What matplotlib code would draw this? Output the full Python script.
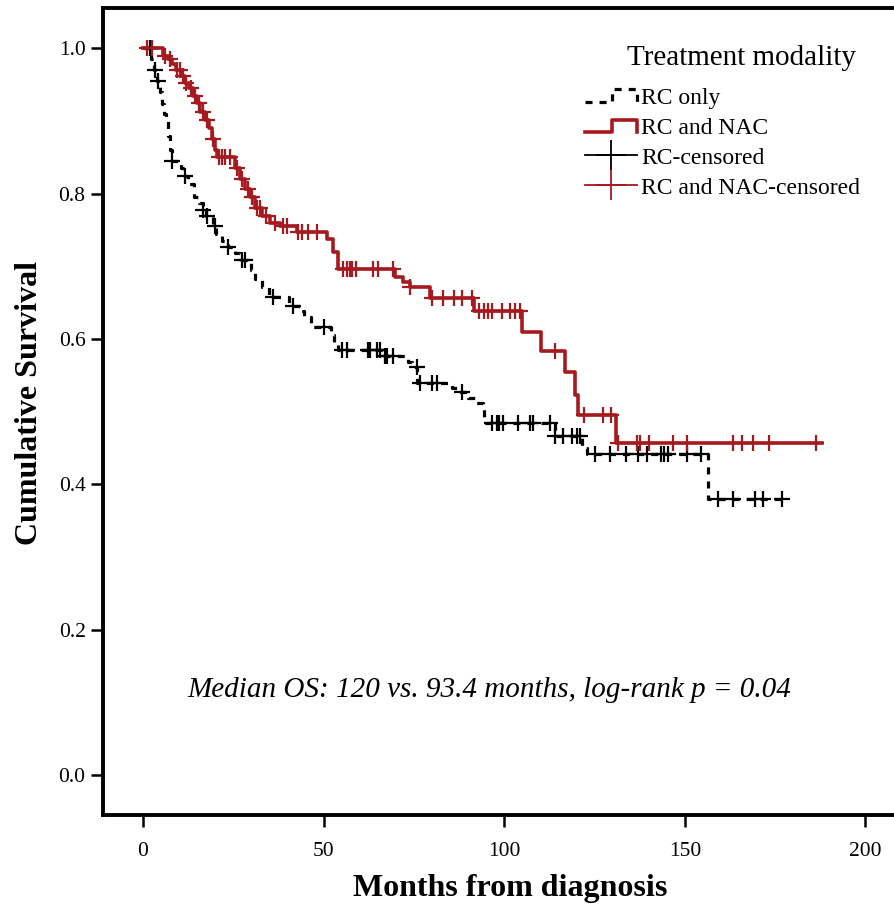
import numpy as np
import matplotlib
matplotlib.use('Agg')
import matplotlib.pyplot as plt
from matplotlib.lines import Line2D
from matplotlib.legend_handler import HandlerBase

plt.rcParams['font.family'] = ['Liberation Serif', 'DejaVu Serif']

# RC only (Kaplan-Meier steps: time in months, survival)
rc_t = [0, 2.2, 3.0, 4.0, 4.8, 5.3, 5.8, 6.4, 6.9, 7.5, 8.0, 10.5, 11.0, 12.5, 14.0, 15.5, 16.5, 17.5,
        19.5, 20.2, 22.0, 23.5, 25.5, 27.0, 30.0, 31.0, 33.0, 35.0, 40.5, 43.5, 44.5, 46.5, 52.0, 53.0,
        54.0, 66.5, 73.5, 74.5, 76.0, 85.5, 87.0, 90.0, 92.0, 94.0, 94.5, 114.0, 121.5, 123.0, 156.5]
rc_s = [1.0, 0.985, 0.97, 0.955, 0.94, 0.923, 0.91, 0.90, 0.88, 0.86, 0.845, 0.835, 0.824, 0.813, 0.796,
        0.787, 0.778, 0.769, 0.755, 0.745, 0.735, 0.727, 0.718, 0.709, 0.695, 0.682, 0.671, 0.658, 0.646,
        0.638, 0.631, 0.617, 0.605, 0.595, 0.585, 0.576, 0.568, 0.562, 0.54, 0.533, 0.527, 0.519, 0.512,
        0.507, 0.485, 0.466, 0.45, 0.442, 0.38]
rc_end = 178.0
rc_cens = [1.9, 3.3, 4.3, 8.0, 11.6, 16.6, 17.6, 19.9, 23.6, 27.4, 28.3, 36.0, 41.5, 50.0, 55.0, 56.5,
           62.3, 62.9, 64.8, 65.6, 67.0, 67.6, 69.2, 75.9, 76.7, 80.0, 81.4, 88.4, 96.7, 98.0, 98.5, 99.7,
           103.9, 107.2, 108.0, 112.8, 114.1, 116.3, 118.8, 120.2, 121.0, 125.0, 129.4, 133.8, 137.1,
           139.6, 143.4, 144.3, 145.4, 150.7, 154.6, 159.3, 163.4, 169.5, 171.7, 177.0]

# RC and NAC
nac_t = [0, 5.5, 6.9, 8.0, 9.1, 10.5, 11.6, 12.7, 13.9, 15.0, 15.8, 17.2, 18.3, 19.1, 19.9, 20.5, 25.5,
         26.9, 28.3, 29.6, 31.0, 33.0, 35.2, 38.0, 42.7, 51.0, 52.6, 54.0, 69.8, 72.0, 74.0, 79.5, 91.7,
         105.0, 110.2, 116.9, 119.7, 120.5, 131.0]
nac_s = [1.0, 0.99, 0.985, 0.978, 0.970, 0.962, 0.953, 0.945, 0.935, 0.925, 0.912, 0.902, 0.89, 0.875,
         0.86, 0.851, 0.835, 0.82, 0.806, 0.795, 0.78, 0.77, 0.76, 0.755, 0.747, 0.737, 0.72, 0.697, 0.686,
         0.678, 0.671, 0.657, 0.638, 0.610, 0.583, 0.554, 0.523, 0.496, 0.457]
nac_end = 188.0
nac_cens = [1.0, 2.5, 6.2, 7.5, 9.5, 10.2, 11.0, 12.0, 13.2, 14.4, 15.4, 16.5, 17.8, 19.5, 21.0, 21.8,
            22.6, 24.0, 26.0, 27.5, 29.0, 30.2, 31.5, 32.5, 34.0, 36.5, 38.8, 40.0, 43.0, 44.0, 45.7,
            48.2, 55.4, 56.5, 57.3, 58.0, 58.9, 63.7, 65.0, 69.3, 74.0, 80.0, 83.0, 86.0, 88.4, 91.0,
            93.0, 94.5, 95.5, 96.7, 99.5, 101.7, 103.0, 104.4, 114.0, 122.0, 127.4, 129.6, 131.6,
            136.8, 137.7, 140.0, 146.8, 150.7, 163.4, 165.7, 169.0, 173.4, 186.2]

labels = ['RC only', 'RC and NAC', 'RC-censored', 'RC and NAC-censored']
red = '#a6191e'


def surv_at(t, s, x):
    idx = np.searchsorted(t, x, side='right') - 1
    return np.asarray(s)[idx]


class StepHandler(HandlerBase):
    # little step shape as legend key, like the SPSS output
    def create_artists(self, legend, orig_handle, xdescent, ydescent, width, height, fontsize, trans):
        x0, y0 = -xdescent, -ydescent
        lo, hi = y0 + 0.1 * height, y0 + 0.85 * height
        xs = [x0, x0 + 0.52 * width, x0 + 0.52 * width, x0 + width, x0 + width]
        ys = [lo, lo, hi, hi, lo]
        ln = Line2D(xs, ys)
        ln.update_from(orig_handle)
        ln.set_transform(trans)
        return [ln]


fig = plt.figure(figsize=(8.95, 9.1), dpi=100)
ax = fig.add_axes([0.115, 0.1044, 0.9, 0.887])

l_rc, = ax.step(list(rc_t) + [rc_end], list(rc_s) + [rc_s[-1]], where='post', color='black',
                lw=2.3, linestyle=(0, (2.2, 2.2)))
l_nac, = ax.step(list(nac_t) + [nac_end], list(nac_s) + [nac_s[-1]], where='post', color=red, lw=2.6)

ax.plot(rc_cens, surv_at(rc_t, rc_s, rc_cens), ls='none', marker='+', ms=12, mew=1.6, color='black')
ax.plot(nac_cens, surv_at(nac_t, nac_s, nac_cens), ls='none', marker='+', ms=12, mew=1.6, color=red)

ax.set_xlim(-11.08, 211.9)
ax.set_ylim(-0.055, 1.0558)
ax.set_xticks([0, 50, 100, 150, 200])
ax.set_yticks([0.0, 0.2, 0.4, 0.6, 0.8, 1.0])
ax.set_yticklabels(['0.0', '0.2', '0.4', '0.6', '0.8', '1.0'])
for sp in ax.spines.values():
    sp.set_linewidth(2.8)
ax.tick_params(length=8.5, width=1.8, labelsize=15.5, pad=4)
ax.tick_params(axis='x', pad=11)

ax.set_xlabel('Months from diagnosis', fontsize=23, fontweight='bold')
ax.set_ylabel('Cumulative Survival', fontsize=23, fontweight='bold')
ax.xaxis.set_label_coords(0.506, -0.073)
ax.yaxis.set_label_coords(-0.073, 0.51)

ax.text(96, 0.117, 'Median OS: 120 vs. 93.4 months, log-rank p = 0.04', fontsize=21,
        style='italic', ha='center', va='center')

h_rc_c = Line2D([], [], color='black', lw=1.3, marker='+', ms=22, mew=1.3)
h_nac_c = Line2D([], [], color=red, lw=1.3, marker='+', ms=22, mew=1.3)
fig.text(856 / 895, 1 - 58 / 910, 'Treatment modality', fontsize=21, ha='right', va='center')
leg = ax.legend([l_rc, l_nac, h_rc_c, h_nac_c], labels,
                loc='upper left', bbox_to_anchor=(585 / 895, 1 - 87 / 910),
                bbox_transform=fig.transFigure, frameon=False, fontsize=17,
                handlelength=2.2, handletextpad=0.17, labelspacing=0.36, borderpad=0,
                borderaxespad=0, numpoints=1,
                handler_map={l_rc: StepHandler(), l_nac: StepHandler()})

fig.savefig('out.png', dpi=100)
